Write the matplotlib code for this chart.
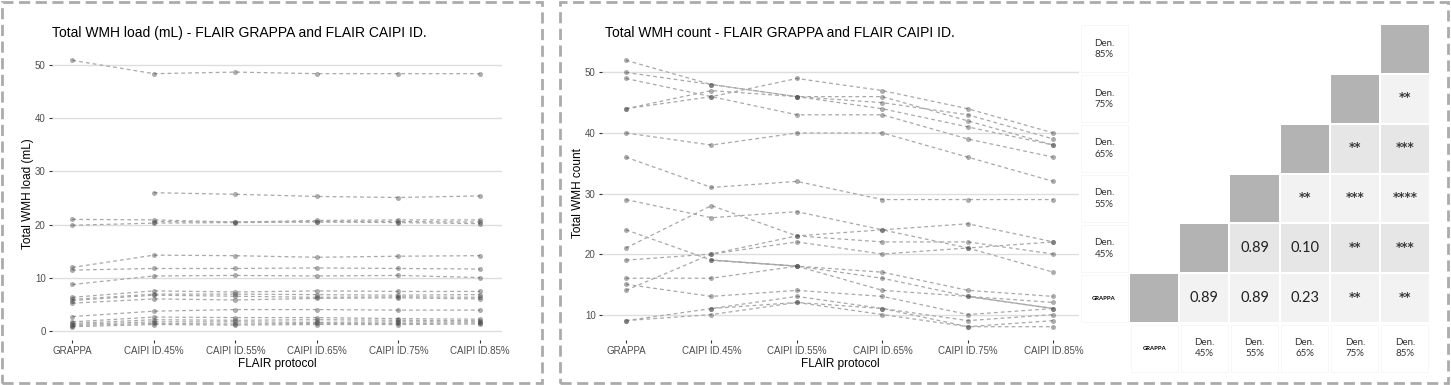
import numpy as np
import matplotlib
matplotlib.use("Agg")
import matplotlib.pyplot as plt
from matplotlib.patches import Rectangle

plt.rcParams['font.family'] = ['Liberation Sans', 'DejaVu Sans']

# %%
protocols = ['GRAPPA', 'CAIPI ID.45%', 'CAIPI ID.55%', 'CAIPI ID.65%', 'CAIPI ID.75%', 'CAIPI ID.85%']
nan = np.nan

# total WMH load (mL), one row per subject
load_vals = [
    [50.8, 48.3, 48.6, 48.3, 48.3, 48.3],
    [nan, 26.0, 25.7, 25.3, 25.1, 25.4],
    [21.0, 20.9, 20.5, 20.8, 20.9, 20.9],
    [19.9, 20.3, 20.4, 20.5, 20.4, 20.2],
    [nan, 20.6, 20.5, 20.6, 20.6, 20.5],
    [12.0, 14.3, 14.2, 13.9, 14.1, 14.2],
    [11.5, 11.8, 11.8, 11.9, 11.8, 11.7],
    [8.8, 10.4, 10.5, 10.4, 10.5, 10.1],
    [6.4, 7.6, 7.4, 7.6, 7.5, 7.5],
    [6.0, 7.0, 7.0, 6.9, 6.8, 6.9],
    [5.8, 6.8, 6.6, 6.4, 6.5, 6.4],
    [5.3, 6.1, 5.9, 6.2, 6.3, 6.1],
    [2.8, 3.8, 4.1, 4.1, 4.0, 4.0],
    [1.8, 2.7, 2.6, 2.6, 2.4, 2.3],
    [1.5, 2.2, 2.1, 2.2, 2.1, 2.0],
    [1.3, 1.8, 1.8, 1.7, 1.8, 1.8],
    [1.1, 1.5, 1.4, 1.5, 1.5, 1.6],
    [0.9, 1.3, 1.2, 1.3, 1.3, 1.4],
]

# total WMH count, one row per subject
count_vals = [
    [52, 48, 46, 46, 42, 38],
    [50, 48, 46, 45, 43, 39],
    [49, 46, 43, 43, 39, 36],
    [44, 47, 46, 44, 41, 38],
    [44, 46, 49, 47, 44, 40],
    [40, 38, 40, 40, 36, 32],
    [36, 31, 32, 29, 29, 29],
    [29, 26, 27, 24, 25, 22],
    [21, 28, 23, 22, 22, 20],
    [24, 19, 18, 16, 13, 11],
    [14, 20, 23, 24, 21, 22],
    [19, 20, 22, 20, 21, 17],
    [16, 16, 18, 14, 13, 12],
    [15, 13, 14, 13, 10, 11],
    [9, 11, 13, 11, 9, 10],
    [9, 10, 12, 10, 8, 9],
    [nan, 11, 12, 11, 8, 8],
    [nan, 19, 18, 17, 14, 13],
]
# subject whose line is partly drawn solid in the original
solid_subject = 9
solid_segments = [(1, 2), (4, 5)]

# pairwise comparison table (rows from bottom), x labels / y labels
tab_cols = ['GRAPPA', 'Den.\n45%', 'Den.\n55%', 'Den.\n65%', 'Den.\n75%', 'Den.\n85%']
tab_rows = ['GRAPPA', 'Den.\n45%', 'Den.\n55%', 'Den.\n65%', 'Den.\n75%', 'Den.\n85%']
tab_text = [
    ['', '0.89', '0.89', '0.23', '**', '**'],
    ['', '', '0.89', '0.10', '**', '***'],
    ['', '', '', '**', '***', '****'],
    ['', '', '', '', '**', '***'],
    ['', '', '', '', '', '**'],
    ['', '', '', '', '', ''],
]

W, H = 1451, 385
fig = plt.figure(figsize=(W / 100, H / 100), dpi=100)


def px_axes(x0, y0, x1, y1):
    return fig.add_axes([x0 / W, 1 - y1 / H, (x1 - x0) / W, (y1 - y0) / H])


def style_ax(ax, ylabel):
    for s in ax.spines.values():
        s.set_visible(False)
    ax.grid(axis='y', color='#dedede', lw=1.0)
    ax.set_axisbelow(True)
    ax.tick_params(axis='both', length=2.5, width=0.8, color='#333333', labelsize=7, labelcolor='#4d4d4d', pad=2)
    ax.set_xticks(range(len(protocols)))
    ax.set_xticklabels(protocols)
    ax.set_xlabel('FLAIR protocol', fontsize=8.5, labelpad=1)
    ax.set_ylabel(ylabel, fontsize=8.5, labelpad=1)


def draw_lines(ax, vals):
    xs = np.arange(len(protocols))
    for row in vals:
        row = np.array(row, dtype=float)
        ax.plot(xs, row, color='#a8a8a8', lw=0.9, ls=(0, (3, 2.5)), zorder=2)
        ax.plot(xs, row, 'o', color='#4a4a4a', alpha=0.45, ms=3.6, mew=0, zorder=3)


# left chart
ax1 = px_axes(52, 47, 502, 340)
draw_lines(ax1, load_vals)
ax1.set_xlim(-0.25, 5.27)
ax1.set_ylim(-1.6, 53.3)
ax1.set_yticks([0, 10, 20, 30, 40, 50])
style_ax(ax1, 'Total WMH load (mL)')
fig.text(52 / W, 1 - 33 / H, 'Total WMH load (mL) - FLAIR GRAPPA and FLAIR CAIPI ID.', fontsize=10, va='center')

# middle chart
ax2 = px_axes(602, 47, 1079, 340)
draw_lines(ax2, count_vals)
row = np.array(count_vals[solid_subject], dtype=float)
for a, b in solid_segments:
    ax2.plot([a, b], [row[a], row[b]], color='#a8a8a8', lw=0.9, ls='-', zorder=2)
ax2.set_xlim(-0.28, 5.3)
ax2.set_ylim(5.8, 54.2)
ax2.set_yticks([10, 20, 30, 40, 50])
style_ax(ax2, 'Total WMH count')
fig.text(605 / W, 1 - 33 / H, 'Total WMH count - FLAIR GRAPPA and FLAIR CAIPI ID.', fontsize=10, va='center')

# table
ax3 = px_axes(1079, 24, 1430, 373)
ax3.set_xlim(0, 7)
ax3.set_ylim(0, 7)
ax3.axis('off')
gap = 0.03


def label_cell(x, y, lbl):
    ax3.add_patch(Rectangle((x + gap, y + gap), 1 - 2 * gap, 1 - 2 * gap, fc='white', ec='#f6f6f6', lw=0.6))
    if lbl == 'GRAPPA':
        ax3.text(x + 0.5, y + 0.5, lbl, ha='center', va='center', fontsize=4.2, fontweight='bold', family='Lato')
    else:
        ax3.text(x + 0.5, y + 0.5, lbl, ha='center', va='center', fontsize=7, family='Lato',
                 color='#333333', linespacing=1.35)


for r in range(6):
    label_cell(0, r + 1, tab_rows[r])
    label_cell(r + 1, 0, tab_cols[r])
    for c in range(r, 6):
        if c == r:
            fc = '#b3b3b3'
        else:
            fc = '#f2f2f2' if r % 2 == 0 else '#e6e6e6'
        ax3.add_patch(Rectangle((c + 1 + 0.02, r + 1 + 0.02), 0.96, 0.96, fc=fc, ec='none'))
        t = tab_text[r][c]
        if t:
            if '*' in t:
                ax3.text(c + 1.5, r + 1.52, t, ha='center', va='center', fontsize=8.5, fontweight='bold',
                         family='DejaVu Sans', color='#3a3a3a')
            else:
                ax3.text(c + 1.5, r + 1.5, t, ha='center', va='center', fontsize=10.5, family='Lato', color='#222222')

# dashed panel borders
for (x0, y0, x1, y1) in [(2, 2, 542, 383), (560, 2, 1448, 383)]:
    fig.patches.append(Rectangle((x0 / W, 1 - y1 / H), (x1 - x0) / W, (y1 - y0) / H,
                                 transform=fig.transFigure, fill=False, ec='#ababab', lw=2,
                                 ls=(0, (4, 2))))

plt.savefig('out.png', dpi=100)
